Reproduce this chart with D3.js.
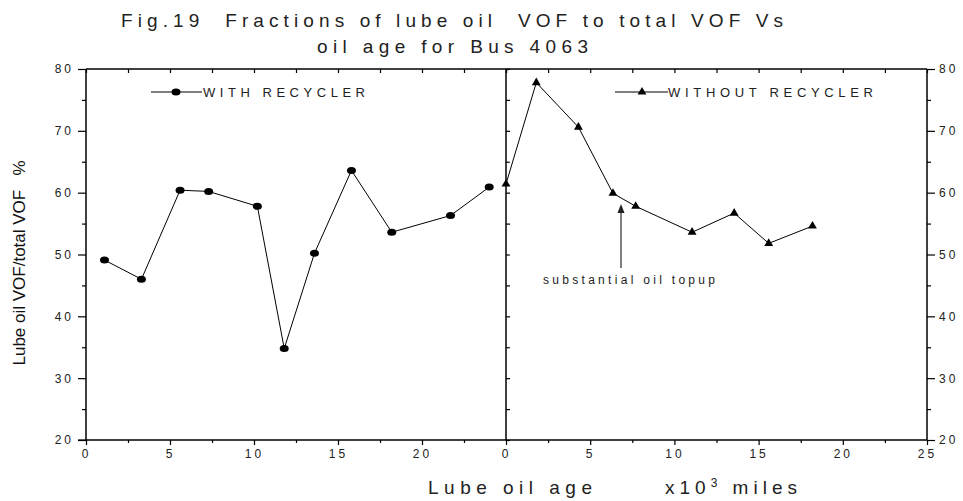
<!DOCTYPE html>
<html>
<head>
  <meta charset="UTF-8">
  <title>Fig.19 lube oil VOF fractions</title>
  <style>
    body { margin: 0; background: #fff; }
    svg { display: block; font-family: 'Liberation Sans', Arial, sans-serif; }
    .tick text { font-size: 12px; letter-spacing: 3px; fill: #222; }
  </style>
</head>
<body>
  <div id="chart"></div>

  <script src="https://d3js.org/d3.v7.min.js"></script>

  <script>
    // with recycler (left panel)
    const withX = [1.1, 3.3, 5.6, 7.3, 10.2, 11.8, 13.6, 15.8, 18.2, 21.7, 24.0];
    const withY = [49.1, 46.0, 60.4, 60.2, 57.8, 34.8, 50.2, 63.6, 53.6, 56.3, 60.9];
    // without recycler (right panel)
    const withoutX = [0, 1.8, 4.3, 6.35, 7.7, 11.05, 13.55, 15.6, 18.2];
    const withoutY = [61.4, 77.8, 70.6, 59.9, 57.8, 53.6, 56.7, 51.8, 54.6];

    const xTicks = [0, 5, 10, 15, 20, 25];
    const xMinor = [2.5, 7.5, 12.5, 17.5, 22.5];
    const yTicks = [20, 30, 40, 50, 60, 70, 80];
    const yMinor = [25, 35, 45, 55, 65, 75];

    const width = 963, height = 501;

    const svg = d3.select("#chart").append("svg")
      .attr("width", width)
      .attr("height", height);

    const xL = d3.scaleLinear().domain([0, 25]).range([86, 506]);
    const xR = d3.scaleLinear().domain([0, 25]).range([506, 927]);
    const y = d3.scaleLinear().domain([20, 80]).range([440, 69]);

    function axisG(axis, tx, ty) {
      const g = svg.append("g")
        .attr("transform", `translate(${tx},${ty})`)
        .call(axis);
      g.select(".domain").remove();
      g.selectAll(".tick line").attr("stroke", "#000").attr("stroke-width", 1.2);
      return g;
    }

    // bottom axes
    axisG(d3.axisBottom(xL).tickValues(xTicks.slice(0, 5)).tickSize(5).tickPadding(4), 0, 440);
    axisG(d3.axisBottom(xL).tickValues(xMinor).tickSize(3).tickFormat(""), 0, 440);
    axisG(d3.axisBottom(xR).tickValues(xTicks).tickSize(5).tickPadding(4), 0, 440);
    axisG(d3.axisBottom(xR).tickValues(xMinor).tickSize(3).tickFormat(""), 0, 440);

    // top axes, ticks pointing in
    axisG(d3.axisTop(xL).tickValues(xTicks.concat(xMinor)).tickSize(-4).tickFormat(""), 0, 69);
    axisG(d3.axisTop(xR).tickValues(xTicks.concat(xMinor)).tickSize(-4).tickFormat(""), 0, 69);

    // left axis
    axisG(d3.axisLeft(y).tickValues(yTicks).tickSize(8).tickPadding(4), 86, 0);
    axisG(d3.axisLeft(y).tickValues(yMinor).tickSize(4).tickFormat(""), 86, 0);
    // right axis
    axisG(d3.axisRight(y).tickValues(yTicks).tickSize(8).tickPadding(4), 927, 0);
    axisG(d3.axisRight(y).tickValues(yMinor).tickSize(4).tickFormat(""), 927, 0);
    // middle divider, inward ticks
    axisG(d3.axisRight(y).tickValues(yTicks.concat(yMinor)).tickSize(4).tickFormat(""), 506, 0);

    // frame lines
    const frame = [
      [86, 69, 927, 69], [86, 440, 927, 440],
      [86, 69, 86, 440], [506, 69, 506, 440], [927, 69, 927, 440]
    ];
    svg.selectAll("line.frame").data(frame).join("line")
      .attr("class", "frame")
      .attr("x1", d => d[0]).attr("y1", d => d[1])
      .attr("x2", d => d[2]).attr("y2", d => d[3])
      .attr("stroke", "#000").attr("stroke-width", 1.5);
    // tick at 20 extends along the bottom on the left
    svg.append("line").attr("x1", 78).attr("x2", 86).attr("y1", 440).attr("y2", 440)
      .attr("stroke", "#000").attr("stroke-width", 1.2);

    // series
    const withData = withX.map((v, i) => ({ x: v, y: withY[i] }));
    const withoutData = withoutX.map((v, i) => ({ x: v, y: withoutY[i] }));

    svg.append("path").datum(withData)
      .attr("fill", "none").attr("stroke", "#000").attr("stroke-width", 1)
      .attr("d", d3.line().x(d => xL(d.x)).y(d => y(d.y)));
    svg.selectAll("ellipse.pt").data(withData).join("ellipse")
      .attr("class", "pt")
      .attr("cx", d => xL(d.x)).attr("cy", d => y(d.y))
      .attr("rx", 4.5).attr("ry", 3.5).attr("fill", "#000");

    svg.append("path").datum(withoutData)
      .attr("fill", "none").attr("stroke", "#000").attr("stroke-width", 1)
      .attr("d", d3.line().x(d => xR(d.x)).y(d => y(d.y)));
    const tri = d3.symbol().type(d3.symbolTriangle).size(34);
    svg.selectAll("path.tri").data(withoutData).join("path")
      .attr("class", "tri")
      .attr("transform", d => `translate(${xR(d.x)},${y(d.y)})`)
      .attr("d", tri).attr("fill", "#000");

    // legends
    svg.append("line").attr("x1", 151).attr("x2", 202).attr("y1", 92).attr("y2", 92)
      .attr("stroke", "#000").attr("stroke-width", 1);
    svg.append("ellipse").attr("cx", 176).attr("cy", 92).attr("rx", 4.5).attr("ry", 3.5).attr("fill", "#000");
    svg.append("text").attr("x", 203).attr("y", 97)
      .attr("textLength", 162).attr("lengthAdjust", "spacing")
      .style("font-size", "13px").style("fill", "#222").text("WITH RECYCLER");

    svg.append("line").attr("x1", 615).attr("x2", 668).attr("y1", 92).attr("y2", 92)
      .attr("stroke", "#000").attr("stroke-width", 1);
    svg.append("path").attr("transform", "translate(642,92)").attr("d", tri).attr("fill", "#000");
    svg.append("text").attr("x", 668).attr("y", 97)
      .attr("textLength", 205).attr("lengthAdjust", "spacing")
      .style("font-size", "13px").style("fill", "#222").text("WITHOUT RECYCLER");

    // annotation arrow
    svg.append("line").attr("x1", 621).attr("x2", 621).attr("y1", 268).attr("y2", 212)
      .attr("stroke", "#555").attr("stroke-width", 1.5);
    svg.append("path").attr("d", "M621,204 L617.5,213 L624.5,213 Z").attr("fill", "#222");
    svg.append("text").attr("x", 543).attr("y", 284)
      .attr("textLength", 172).attr("lengthAdjust", "spacing")
      .style("font-size", "12px").style("fill", "#222").text("substantial oil topup");

    // title
    svg.append("text").attr("x", 121).attr("y", 27)
      .attr("textLength", 662).attr("lengthAdjust", "spacing")
      .style("font-size", "19px").style("fill", "#222")
      .text("Fig.19  Fractions of lube oil  VOF to total VOF Vs")
      .style("white-space", "pre");
    svg.append("text").attr("x", 317).attr("y", 53)
      .attr("textLength", 271).attr("lengthAdjust", "spacing")
      .style("font-size", "19px").style("fill", "#222")
      .text("oil age for Bus 4063");

    // axis titles
    svg.append("text").attr("x", 428).attr("y", 494)
      .attr("textLength", 164).attr("lengthAdjust", "spacing")
      .style("font-size", "19px").style("fill", "#222").text("Lube oil age");
    const xu = svg.append("text").attr("x", 665).attr("y", 494)
      .style("font-size", "19px").style("letter-spacing", "5px").style("fill", "#222");
    xu.append("tspan").text("x10");
    xu.append("tspan").attr("dy", -7).style("font-size", "12px").text("3");
    xu.append("tspan").attr("dy", 7).text(" miles");

    svg.append("text")
      .attr("transform", "translate(25,263) rotate(-90)")
      .attr("text-anchor", "middle")
      .style("font-size", "17px").style("fill", "#111")
      .style("white-space", "pre")
      .text("Lube oil VOF/total VOF   %");
  </script>
</body>
</html>
